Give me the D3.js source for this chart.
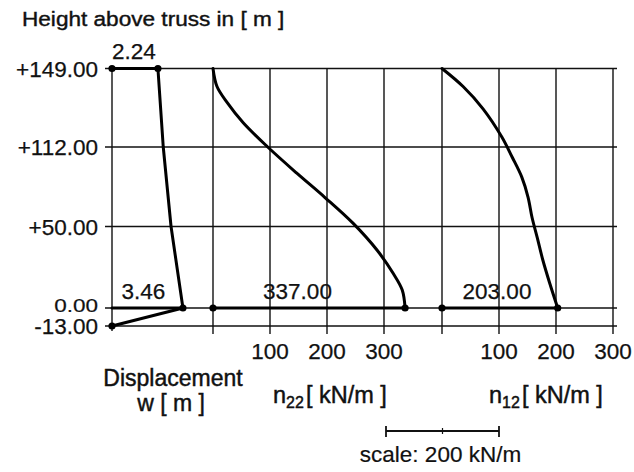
<!DOCTYPE html>
<html>
<head>
<meta charset="utf-8">
<script src="https://cdn.jsdelivr.net/npm/d3@7/dist/d3.min.js"></script>
<style>
  html, body { margin: 0; padding: 0; background: #fff; }
  svg { display: block; }
  text { font-family: "Liberation Sans", Arial, Helvetica, sans-serif; fill: #111; }
</style>
</head>
<body>
<svg id="chart" width="634" height="472"></svg>
<script>
// Height levels along the tower (m) and their labels
const levels = [149, 112, 50, 0, -13];
const levelLabels = ["+149.00", "+112.00", "+50.00", "0.00", "-13.00"];

// Displacement w [m] along the height
const wHeights = [149, 149, 112, 50, 0, -13];
const wValues  = [0, 2.24, 2.50, 2.88, 3.46, 0];

// Membrane force n22 [kN/m] along the height
const n22Heights = [149, 140.5, 132.9, 123.4, 112, 91.6, 72.8, 52.4, 35.4, 21.3, 11, 0];
const n22Values  = [0, 7, 25, 53, 96, 147, 196, 246, 288, 316, 332, 337];

// Membrane shear force n12 [kN/m] along the height
const n12Heights = [149, 140.5, 130, 116.7, 104.2, 88.5, 72.8, 57, 43.3, 29.3, 15.2, 0];
const n12Values  = [0, 37, 72, 105, 123, 140, 151, 158, 167, 177, 189, 203];

// Force grid values and tick labels
const forceGrid = [0, 100, 200, 300];
const forceTicks = [100, 200, 300];

// Labelled extreme values
const wTop = 2.24, wBase = 3.46, n22Max = 337.00, n12Max = 203.00;
const scaleBarValue = 200;

const svg = d3.select("#chart");

// Height scale: schematic, piecewise linear between the levels
const y = d3.scaleLinear()
  .domain([-13, 0, 50, 112, 149])
  .range([326, 308, 226.5, 147, 68.5]);

// One horizontal scale per panel
const xw   = d3.scaleLinear().domain([0, 1]).range([112, 132.5]);
const x22  = d3.scaleLinear().domain([0, 100]).range([213, 270]);
const x12  = d3.scaleLinear().domain([0, 100]).range([442, 499]);

const gridTop = y(149), gridBottom = 334;
const grid = svg.append("g").attr("stroke", "#111").attr("stroke-width", 1.4);

// horizontal grid lines at every level
grid.selectAll("line.h").data(levels).join("line")
  .attr("class", "h")
  .attr("x1", 105).attr("x2", 617)
  .attr("y1", d => y(d)).attr("y2", d => y(d));

// vertical lines: displacement axis and the force grids
grid.append("line")
  .attr("x1", xw(0)).attr("x2", xw(0))
  .attr("y1", gridTop).attr("y2", 331);
[x22, x12].forEach(sx => {
  grid.selectAll(null).data(forceGrid).join("line")
    .attr("x1", d => sx(d)).attr("x2", d => sx(d))
    .attr("y1", gridTop).attr("y2", gridBottom);
});

// slightly heavier text weight
const heavy = (g, w = 0.45) => g.attr("stroke", "#111").attr("stroke-width", w);

// level labels
const lbl = svg.append("g").attr("font-size", 22.5).attr("text-anchor", "end")
  .call(heavy, 0.25);
levels.forEach((lv, i) => {
  const g = lbl.append("g");
  if (lv === 0) {
    g.attr("transform", `translate(98,${y(lv) + 3.5}) scale(1,0.78)`);
  } else {
    g.attr("transform", `translate(98,${y(lv) + 8})`);
  }
  g.append("text").text(levelLabels[i]);
});

// force tick labels
const tickG = svg.append("g").attr("font-size", 22.5).attr("text-anchor", "middle")
  .call(heavy, 0.25);
[x22, x12].forEach(sx => {
  tickG.selectAll(null).data(forceTicks).join("text")
    .attr("x", d => sx(d)).attr("y", 359)
    .text(d => d);
});

// data lines
const thick = svg.append("g").attr("fill", "none").attr("stroke", "#000")
  .attr("stroke-width", 3).attr("stroke-linejoin", "round").attr("stroke-linecap", "round");

const wPts = wHeights.map((h, i) => [xw(wValues[i]), y(h)]);
thick.append("path").attr("d", d3.line()(wPts));
thick.append("path").attr("d", d3.line()([[xw(0), y(0)], [xw(wBase), y(0)]]));

const smooth = d3.line().curve(d3.curveCatmullRom.alpha(0.5));
thick.append("path").attr("d", smooth(n22Heights.map((h, i) => [x22(n22Values[i]), y(h)])));
thick.append("path").attr("d", d3.line()([[x22(0), y(0)], [x22(n22Max), y(0)]]));
thick.append("path").attr("d", smooth(n12Heights.map((h, i) => [x12(n12Values[i]), y(h)])));
thick.append("path").attr("d", d3.line()([[x12(0), y(0)], [x12(n12Max), y(0)]]));

// end points
const dots = [
  [xw(0), y(149)], [xw(wTop), y(149)], [xw(wBase), y(0)], [xw(0), y(-13)],
  [x22(0), y(0)], [x22(n22Max), y(0)],
  [x12(0), y(0)], [x12(n12Max), y(0)]
];
svg.append("g").selectAll("circle").data(dots).join("circle")
  .attr("cx", d => d[0]).attr("cy", d => d[1]).attr("r", 3.6).attr("fill", "#000");

// value annotations
const ann = svg.append("g").attr("font-size", 22.5).attr("text-anchor", "middle")
  .call(heavy, 0.25);
ann.append("text").attr("x", 134).attr("y", 59).text(wTop.toFixed(2));
ann.append("text").attr("x", 143.5).attr("y", 299).text(wBase.toFixed(2));
ann.append("text").attr("x", 297.5).attr("y", 299).text(n22Max.toFixed(2));
ann.append("text").attr("x", 497).attr("y", 299).text(n12Max.toFixed(2));

// titles
const title = svg.append("g").attr("transform", "translate(22,26) scale(1,0.86)");
title.append("text").attr("font-size", 22.6).text("Height above truss in [ m ]").call(heavy);

svg.append("text").attr("x", 173).attr("y", 386).attr("font-size", 23)
  .attr("text-anchor", "middle").text("Displacement").call(heavy);
svg.append("text").attr("x", 171).attr("y", 411).attr("font-size", 23)
  .attr("text-anchor", "middle").text("w [ m ]").call(heavy);

function forceTitle(x0, sub) {
  const t = svg.append("text").attr("x", x0).attr("y", 403).attr("font-size", 23.5).call(heavy);
  t.append("tspan").text("n");
  t.append("tspan").attr("font-size", 16).attr("dy", 5).text(sub);
  t.append("tspan").attr("dy", -5).attr("dx", 2).text("[ kN/m ]");
}
forceTitle(273, "22");
forceTitle(489, "12");

// scale bar
const barScale = d3.scaleLinear().domain([0, 100]).range([386, 442.5]);
const bar = svg.append("g").attr("stroke", "#111").attr("stroke-width", 1.8);
bar.append("line").attr("x1", barScale(0)).attr("x2", barScale(scaleBarValue)).attr("y1", 431).attr("y2", 431);
bar.append("line").attr("x1", barScale(0)).attr("x2", barScale(0)).attr("y1", 426).attr("y2", 437);
bar.append("line").attr("x1", barScale(scaleBarValue)).attr("x2", barScale(scaleBarValue)).attr("y1", 426).attr("y2", 437);
bar.append("line").attr("x1", barScale(scaleBarValue / 2)).attr("x2", barScale(scaleBarValue / 2))
  .attr("y1", 428).attr("y2", 434).attr("stroke-width", 1.2);
svg.append("text").attr("x", 440.5).attr("y", 462).attr("font-size", 22.5)
  .attr("text-anchor", "middle").text(`scale: ${scaleBarValue} kN/m`).call(heavy, 0.2);
</script>
</body>
</html>
